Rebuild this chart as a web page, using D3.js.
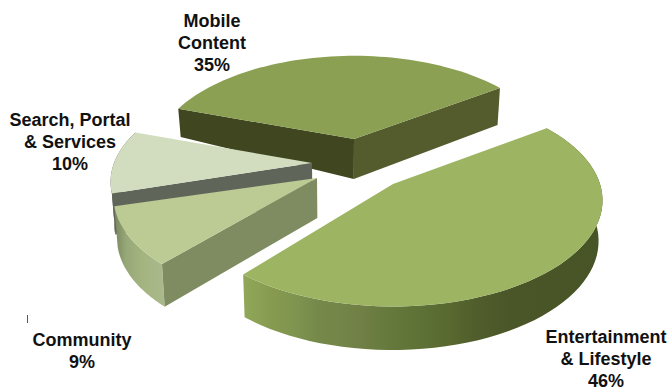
<!DOCTYPE html>
<html>
<head>
<meta charset="utf-8">
<style>
  html, body { margin: 0; padding: 0; background: #fff; }
  svg { display: block; }
  text { font-family: "Liberation Sans", Arial, sans-serif; font-weight: 700; font-size: 18px; fill: #111; }
</style>
</head>
<body>
<svg id="chart" width="672" height="390"></svg>
<script src="https://cdn.jsdelivr.net/npm/d3@7"></script>
<script>
// Market share by content category
const categories = ["Entertainment & Lifestyle", "Community", "Search, Portal & Services", "Mobile Content"];
const shares = [46, 9, 10, 35];
const labelLines = [
  ["Entertainment", "& Lifestyle", "46%"],
  ["Community", "9%"],
  ["Search, Portal", "& Services", "10%"],
  ["Mobile", "Content", "35%"]
];

// Layout of the exploded slices: pivot, radius, small turn in degrees and depth of perspective
const pivots = new Map([
  [categories[0], { x: 393, y: 184, r: 207, turn: -1, persp: 0.155 }],
  [categories[1], { x: 317, y: 178, r: 200, turn: 1.4, persp: 0.184 }],
  [categories[2], { x: 312, y: 163, r: 198, turn: 0, persp: 0.184 }],
  [categories[3], { x: 354, y: 139, r: 197, turn: 0, persp: 0.184 }]
]);
const labelAnchors = new Map([
  [categories[0], { x: 606, y: 343 }],
  [categories[1], { x: 82, y: 346 }],
  [categories[2], { x: 70, y: 126 }],
  [categories[3], { x: 212, y: 27 }]
]);

const topColor = d3.scaleOrdinal(categories, ["#9db562", "#bbcb93", "#d2ddbf", "#8ba052"]);

const svg = d3.select("#chart");
const defs = svg.append("defs");

function rimGradient(id, x1, x2, stops) {
  const g = defs.append("linearGradient").attr("id", id)
    .attr("gradientUnits", "userSpaceOnUse")
    .attr("x1", x1).attr("x2", x2).attr("y1", 0).attr("y2", 0);
  stops.forEach(([o, c]) => g.append("stop").attr("offset", o).attr("stop-color", c));
}
rimGradient("rim-ent", 246, 600, [
  [0, "#8fa758"], [0.08, "#86994f"], [0.14, "#7f9450"], [0.2, "#75894a"], [0.27, "#748548"],
  [0.33, "#6f7f45"], [0.4, "#657a3c"], [0.5, "#5d7036"], [0.58, "#58682f"], [0.66, "#4f5c2b"],
  [0.75, "#4a5628"], [1, "#475426"]
]);
rimGradient("rim-com", 116, 166, [[0, "#7d8b62"], [0.2, "#97a878"], [0.55, "#a5b581"], [1, "#abb98c"]]);

const rimFill = new Map([
  [categories[0], "url(#rim-ent)"],
  [categories[1], "url(#rim-com)"],
  [categories[2], "#55594a"]
]);

// Cut faces visible for each slice: which edge of the wedge, and its shade
const cutFaces = new Map([
  [categories[1], [{ edge: "start", fill: "#7f8c62" }]],
  [categories[2], [{ edge: "start", fill: "#60655a" }]],
  [categories[3], [
    { edge: "start", fill: "#3f4620" },
    { edge: "end", fill: "#545c2e" }
  ]]
]);

// Oblique view of the pie plane with mild perspective
const tilt = 0.5, vanishX = 340, lowerScale = 0.985;

function onPlane(p, angle) {
  const theta = angle - Math.PI / 2 + p.turn * Math.PI / 180;
  const X = Math.cos(theta), Y = Math.sin(theta);
  const w = 1 / (1 - p.persp * Y);
  return { x: p.x + p.r * X * w, y: p.y + p.r * tilt * Y * w, X, Y };
}

// Thickness seen on screen: nearer parts of the plane read thicker
function thickness(pt) {
  if (pt.Y >= 0) return 40 + 3.5 * pt.Y;
  return pt.X < 0 ? 40 + 36 * pt.Y : 40 + 5 * pt.Y;
}
function lowered(pt) {
  return { x: vanishX + (pt.x - vanishX) * lowerScale, y: pt.y + thickness(pt) };
}

const line = d3.line().x(d => d.x).y(d => d.y);
const slices = d3.pie().sort(null).startAngle(55 * Math.PI / 180).endAngle((55 + 360) * Math.PI / 180)
  .value((d, i) => shares[i])(categories);

const arcPoints = (s, p) => d3.range(0, 61).map(i =>
  onPlane(p, s.startAngle + (s.endAngle - s.startAngle) * i / 60));

// Back-to-front paint order: Mobile, Search, Community, Entertainment
const paintOrder = [categories[3], categories[2], categories[1], categories[0]];

paintOrder.forEach(name => {
  const s = slices.find(d => d.data === name);
  const p = pivots.get(name);
  const rim = arcPoints(s, p);
  const g = svg.append("g").attr("class", "slice");

  if (rimFill.has(name)) {
    g.append("path")
      .attr("d", line(rim.concat(rim.map(lowered).reverse())) + "Z")
      .attr("fill", rimFill.get(name));
  }

  const apex = { x: p.x, y: p.y };
  const apexLow = { x: p.x + (vanishX - p.x) * (1 - lowerScale), y: p.y + 40 };
  (cutFaces.get(name) || []).forEach(f => {
    const outer = f.edge === "start" ? rim[0] : rim[rim.length - 1];
    g.append("path")
      .attr("d", line([apex, outer, lowered(outer), apexLow]) + "Z")
      .attr("fill", f.fill);
  });

  g.append("path")
    .attr("d", line([apex].concat(rim)) + "Z")
    .attr("fill", topColor(name));
});

// Small stray tick at the lower left of the page
svg.append("line")
  .attr("x1", 27.5).attr("x2", 27.5).attr("y1", 315).attr("y2", 323)
  .attr("stroke", "#555").attr("stroke-width", 1);

categories.forEach((name, i) => {
  const a = labelAnchors.get(name);
  svg.append("text")
    .attr("text-anchor", "middle")
    .selectAll("tspan")
    .data(labelLines[i])
    .join("tspan")
    .attr("x", a.x)
    .attr("y", (d, j) => a.y + j * 22)
    .text(d => d);
});
</script>
</body>
</html>
